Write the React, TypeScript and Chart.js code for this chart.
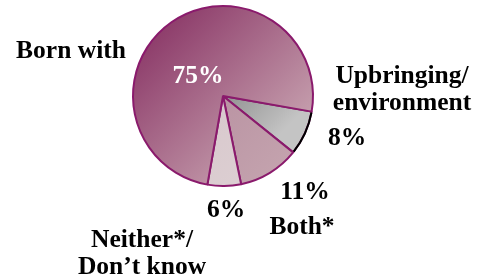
import React, { useEffect, useRef } from "react";
import { Chart, registerables } from "chart.js";

Chart.register(...registerables);

// ---- data ----
const categories = ["Upbringing/\nenvironment", "Both*", "Neither*/\nDon\u2019t know", "Born with"];
const values = [8, 11, 6, 75];
const valueLabels = ["8%", "11%", "6%", "75%"];

// ---- label placement (offsets from pie centre, px) ----
const nameOffsets = [
  [179, -13],
  [79, 138],
  [-81, 151],
  [-152, -38],
];
const valueOffsets = [
  [124, 49],
  [82, 103],
  [3, 121],
  [-25, -13],
];
const lineHeight = 26.5;

const BORDER = "#8a1a6c";
const FONT = "bold 25.5px 'Liberation Serif', 'Times New Roman', serif";

function sliceFill(ctx: any) {
  const chart = ctx.chart;
  const i = ctx.dataIndex;
  const area = chart.chartArea;
  const c = chart.ctx as CanvasRenderingContext2D;
  if (!area) {
    return ["#a8a8a8", "#c09ba9", "#d8c8cc", "#a46a88"][i];
  }
  const x = (area.left + area.right) / 2;
  const y = (area.top + area.bottom) / 2;
  const r = Math.min(area.right - area.left, area.bottom - area.top) / 2;
  const g = c.createLinearGradient(x - r * 0.75, y - r * 0.75, x + r * 0.75, y + r * 0.75);
  if (i === 3) {
    g.addColorStop(0, "#8c3a69");
    g.addColorStop(1, "#ccaab5");
  } else if (i === 0) {
    g.addColorStop(0.45, "#8a8a8a");
    g.addColorStop(0.85, "#c4c4c4");
  } else if (i === 1) {
    g.addColorStop(0.3, "#b68e9f");
    g.addColorStop(1, "#c4a3ae");
  } else {
    g.addColorStop(0, "#d4c2c7");
    g.addColorStop(1, "#ddd0d3");
  }
  return g;
}

const labelPlugin = {
  id: "pieLabels",
  afterDatasetsDraw(chart: any) {
    const meta = chart.getDatasetMeta(0);
    const arcs = meta.data;
    if (!arcs.length) return;
    const c = chart.ctx as CanvasRenderingContext2D;
    const cx = arcs[0].x;
    const cy = arcs[0].y;

    // black outer rim on the grey slice
    const a0: any = arcs[0];
    c.save();
    c.beginPath();
    c.arc(a0.x, a0.y, a0.outerRadius, a0.startAngle + 0.01, a0.endAngle - 0.01);
    c.strokeStyle = "#000";
    c.lineWidth = 2;
    c.stroke();
    c.restore();

    c.save();
    c.font = FONT;
    c.textAlign = "center";
    c.textBaseline = "alphabetic";
    categories.forEach((name, i) => {
      const lines = name.split("\n");
      const [dx, dy] = nameOffsets[i];
      c.fillStyle = "#000";
      lines.forEach((ln, k) => {
        c.fillText(ln, cx + dx, cy + dy + k * lineHeight);
      });
      const [vx, vy] = valueOffsets[i];
      c.fillStyle = i === 3 ? "#ffffff" : "#000";
      c.fillText(valueLabels[i], cx + vx, cy + vy);
    });
    c.restore();
  },
};

export default function App() {
  const ref = useRef<HTMLCanvasElement | null>(null);
  useEffect(() => {
    if (!ref.current) return;
    const chart = new Chart(ref.current, {
      type: "pie",
      data: {
        labels: categories,
        datasets: [
          {
            data: values,
            backgroundColor: sliceFill as any,
            borderColor: BORDER,
            borderWidth: 2,
            borderAlign: "center",
          } as any,
        ],
      },
      options: {
        animation: false,
        responsive: false,
        rotation: 100,
        layout: { padding: { left: 132, right: 169, top: 5, bottom: 88 } },
        plugins: {
          legend: { display: false },
          tooltip: { enabled: false },
        },
      } as any,
      plugins: [labelPlugin],
    });
    return () => chart.destroy();
  }, []);
  return (
    <div style={{ position: "fixed", left: 0, top: 0, width: 483, height: 275, background: "#fff" }}>
      <canvas ref={ref} width={483} height={275} style={{ width: 483, height: 275, display: "block" }} />
    </div>
  );
}
